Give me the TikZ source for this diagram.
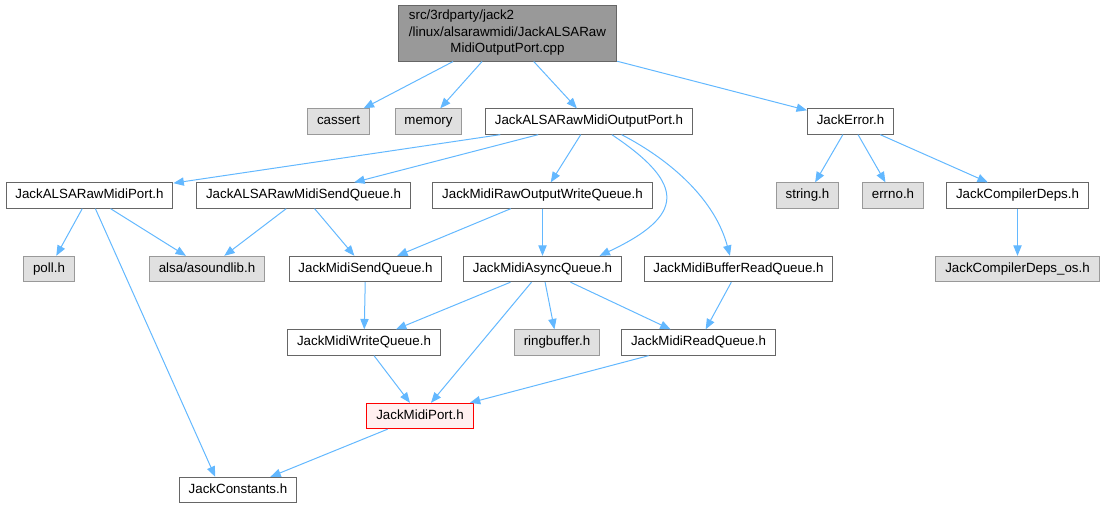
\documentclass[tikz,border=0pt]{standalone}
\usepackage{fontspec}
\setmainfont{Liberation Sans}
\usepackage{xcolor}
\definecolor{edgeblue}{HTML}{63B8FF}
\definecolor{boxline}{HTML}{666666}
\definecolor{sysline}{HTML}{999999}
\definecolor{sysbg}{HTML}{E0E0E0}
\definecolor{rootbg}{HTML}{999999}
\definecolor{hitbg}{HTML}{FFF0F0}
\usetikzlibrary{arrows.meta}

\begin{document}
\begin{tikzpicture}[
        x=0.75pt, y=-0.75pt,
        font=\fontsize{10}{12.4}\selectfont,
        header/.style={
            rectangle,
            draw=boxline,
            fill=white,
            line width=0.75pt,
            inner xsep=7pt,
            inner ysep=0pt,
            minimum height=19pt,
            text height=7.3pt,
            text depth=2.1pt
        },
        syshdr/.style={
            header,
            draw=sysline,
            fill=sysbg
        },
        hithdr/.style={
            header,
            draw=red,
            fill=hitbg
        },
        rootfile/.style={
            rectangle,
            draw=boxline,
            fill=rootbg,
            line width=0.75pt,
            inner xsep=8pt,
            inner ysep=2pt,
            minimum height=42pt
        },
        dep/.style={
            draw=edgeblue,
            line width=0.75pt,
            -{Triangle[length=7.8pt, width=6.2pt]}
        }
    ]

    \useasboundingbox (0,0) rectangle (1104,508);

    % Source file
    \node[rootfile] (root) at (507.5, 33) {\begin{tabular}{@{}l@{}}src/3rdparty/jack2\\ /linux/alsarawmidi/JackALSARaw\\ \multicolumn{1}{@{}c@{}}{MidiOutputPort.cpp}\end{tabular}};

    % Row 1
    \node[syshdr] (cassert) at (338.5, 121.5) {cassert};
    \node[syshdr] (memory) at (428.5, 121.5) {memory};
    \node[header] (outport) at (589, 121.5) {JackALSARawMidiOutputPort.h};
    \node[header] (jerror) at (850.5, 121.5) {JackError.h};

    % Row 2
    \node[header] (rawport) at (89.5, 195.5) {JackALSARawMidiPort.h};
    \node[header] (rawsend) at (303.5, 195.5) {JackALSARawMidiSendQueue.h};
    \node[header] (rawwrite) at (542.5, 195.5) {JackMidiRawOutputWriteQueue.h};
    \node[syshdr] (stringh) at (807.5, 195.5) {string.h};
    \node[syshdr] (errnoh) at (893, 195.5) {errno.h};
    \node[header] (compdeps) at (1017.5, 195.5) {JackCompilerDeps.h};

    % Row 3
    \node[syshdr] (pollh) at (49, 269) {poll.h};
    \node[syshdr] (asound) at (207, 269) {alsa/asoundlib.h};
    \node[header] (sendq) at (365.5, 269) {JackMidiSendQueue.h};
    \node[header] (asyncq) at (542.5, 269) {JackMidiAsyncQueue.h};
    \node[header] (bufread) at (738.5, 269) {JackMidiBufferReadQueue.h};
    \node[syshdr] (compos) at (1017.5, 269) {JackCompilerDeps\_os.h};

    % Row 4
    \node[header] (writeq) at (364, 342.5) {JackMidiWriteQueue.h};
    \node[syshdr] (ringbuf) at (557, 342.5) {ringbuffer.h};
    \node[header] (readq) at (698.5, 342.5) {JackMidiReadQueue.h};

    % Row 5 and 6
    \node[hithdr] (midiport) at (420, 416) {JackMidiPort.h};
    \node[header] (consts) at (238, 490) {JackConstants.h};

    % Includes of the source file
    \draw[dep] (root) -- (cassert);
    \draw[dep] (root) -- (memory);
    \draw[dep] (root) -- (outport);
    \draw[dep] (root) -- (jerror);

    % JackALSARawMidiOutputPort.h
    \draw[dep] (outport) -- (rawport);
    \draw[dep] (outport) -- (rawsend);
    \draw[dep] (outport) -- (rawwrite);
    \draw[dep] (outport.-30) .. controls +(75,50) and +(85,-40) .. (asyncq.13);
    \draw[dep] (outport.-22) .. controls +(50,26) and +(-15,-56) .. (bufread.123);

    % JackError.h
    \draw[dep] (jerror) -- (stringh);
    \draw[dep] (jerror) -- (errnoh);
    \draw[dep] (jerror) -- (compdeps);
    \draw[dep] (compdeps) -- (compos);

    % Row 2 headers
    \draw[dep] (rawport) -- (pollh);
    \draw[dep] (rawport) -- (asound);
    \draw[dep] (rawport) -- (consts.150);
    \draw[dep] (rawsend) -- (asound);
    \draw[dep] (rawsend) -- (sendq);
    \draw[dep] (rawwrite) -- (sendq);
    \draw[dep] (rawwrite) -- (asyncq);

    % Row 3 headers
    \draw[dep] (sendq) -- (writeq);
    \draw[dep] (asyncq) -- (writeq);
    \draw[dep] (asyncq) -- (midiport);
    \draw[dep] (asyncq) -- (ringbuf);
    \draw[dep] (asyncq) -- (readq);
    \draw[dep] (bufread) -- (readq);

    % Down to the port and constants
    \draw[dep] (writeq) -- (midiport);
    \draw[dep] (readq) -- (midiport);
    \draw[dep] (midiport) -- (consts);

\end{tikzpicture}
\end{document}
